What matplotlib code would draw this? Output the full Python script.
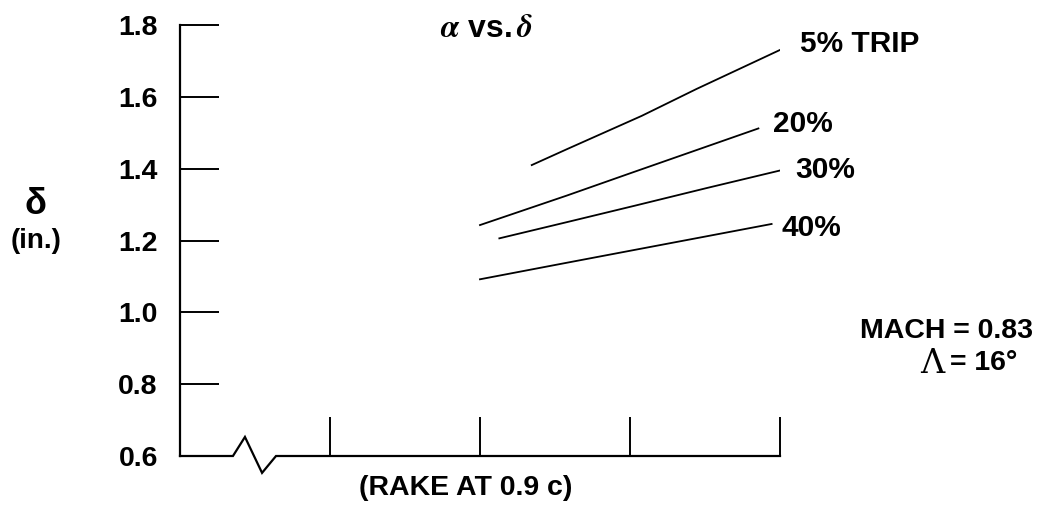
import matplotlib
matplotlib.use("Agg")
import matplotlib.pyplot as plt

plt.rcParams['font.family'] = ['Liberation Sans', 'DejaVu Sans']
plt.rcParams['font.weight'] = 'bold'
plt.rcParams['mathtext.fontset'] = 'stix'

# ---- data (alpha in tick units, delta in inches) ----
alpha_5 = [2.345, 2.578, 3.078, 3.444, 4.033]
delta_5 = [1.410, 1.454, 1.547, 1.622, 1.737]
alpha_20 = [2.000, 2.578, 3.000, 3.856]
delta_20 = [1.243, 1.325, 1.387, 1.512]
alpha_30 = [2.129, 2.578, 3.033, 3.511, 4.011]
delta_30 = [1.206, 1.251, 1.297, 1.346, 1.396]
alpha_40 = [2.000, 2.578, 3.033, 3.489, 3.944]
delta_40 = [1.092, 1.138, 1.174, 1.210, 1.246]
curve_labels = ["5% TRIP", "20%", "30%", "40%"]
yticks = [0.6, 0.8, 1.0, 1.2, 1.4, 1.6, 1.8]
xticks = [1, 2, 3, 4]

W, H = 1055, 505
fig = plt.figure(figsize=(W / 100, H / 100), dpi=100)

def fx(px):
    return px / W

def fy(py):
    return 1 - py / H

ax = fig.add_axes([fx(180), fy(456), fx(780) - fx(180), fy(25) - fy(456)])
ax.set_xlim(0, 4)
ax.set_ylim(0.6, 1.8)

for s in ['top', 'right', 'bottom']:
    ax.spines[s].set_visible(False)
ax.spines['left'].set_linewidth(1.6)

ax.set_yticks(yticks)
ax.set_yticklabels([f"{v:.1f}" for v in yticks], fontsize=20.5, fontweight='bold')
ax.tick_params(axis='y', direction='in', length=28, width=1.4, pad=16)
ax.set_xticks(xticks)
ax.set_xticklabels([])
ax.tick_params(axis='x', direction='in', length=28, width=1.4)

# bottom axis line with break symbol
bx = [0, 0.353, 0.433, 0.547, 0.64, 4]
by = [0.6, 0.6, 0.653, 0.553, 0.6, 0.6]
ax.plot(bx, by, color='black', lw=1.6, clip_on=False, solid_joinstyle='miter')

lw = 1.3
for xs, ys in [(alpha_5, delta_5), (alpha_20, delta_20), (alpha_30, delta_30), (alpha_40, delta_40)]:
    ax.plot(xs, ys, color='black', lw=lw)

# curve labels
lab_pos = [(800, 44), (773, 124), (795, 170), (782, 228)]
for lab, (px, py) in zip(curve_labels, lab_pos):
    fig.text(fx(px), fy(py), lab, fontsize=21.5, fontweight='bold', ha='left', va='center')

# title
fig.text(fx(486), fy(37), r"$\alpha$ vs.$\,\delta$", fontsize=23, fontweight='bold',
         ha='center', va='baseline')

# y label
fig.text(fx(35), fy(205), "δ", fontsize=26, fontweight='bold', ha='center', va='center')
fig.text(fx(36), fy(241), "(in.)", fontsize=20, fontweight='bold', ha='center', va='center')

# x label
fig.text(fx(466), fy(488), "(RAKE AT 0.9 c)", fontsize=20.5, fontweight='bold',
         ha='center', va='center')

# conditions
fig.text(fx(1033), fy(331), "MACH = 0.83", fontsize=20.5, fontweight='bold',
         ha='right', va='center')
fig.text(fx(944), fy(364), "Λ", fontsize=24, fontweight='normal',
         family=['DejaVu Serif'], ha='right', va='center')
fig.text(fx(1017), fy(363), "= 16°", fontsize=20.5, fontweight='bold',
         ha='right', va='center')

fig.savefig("out.png", dpi=100, facecolor='white')
